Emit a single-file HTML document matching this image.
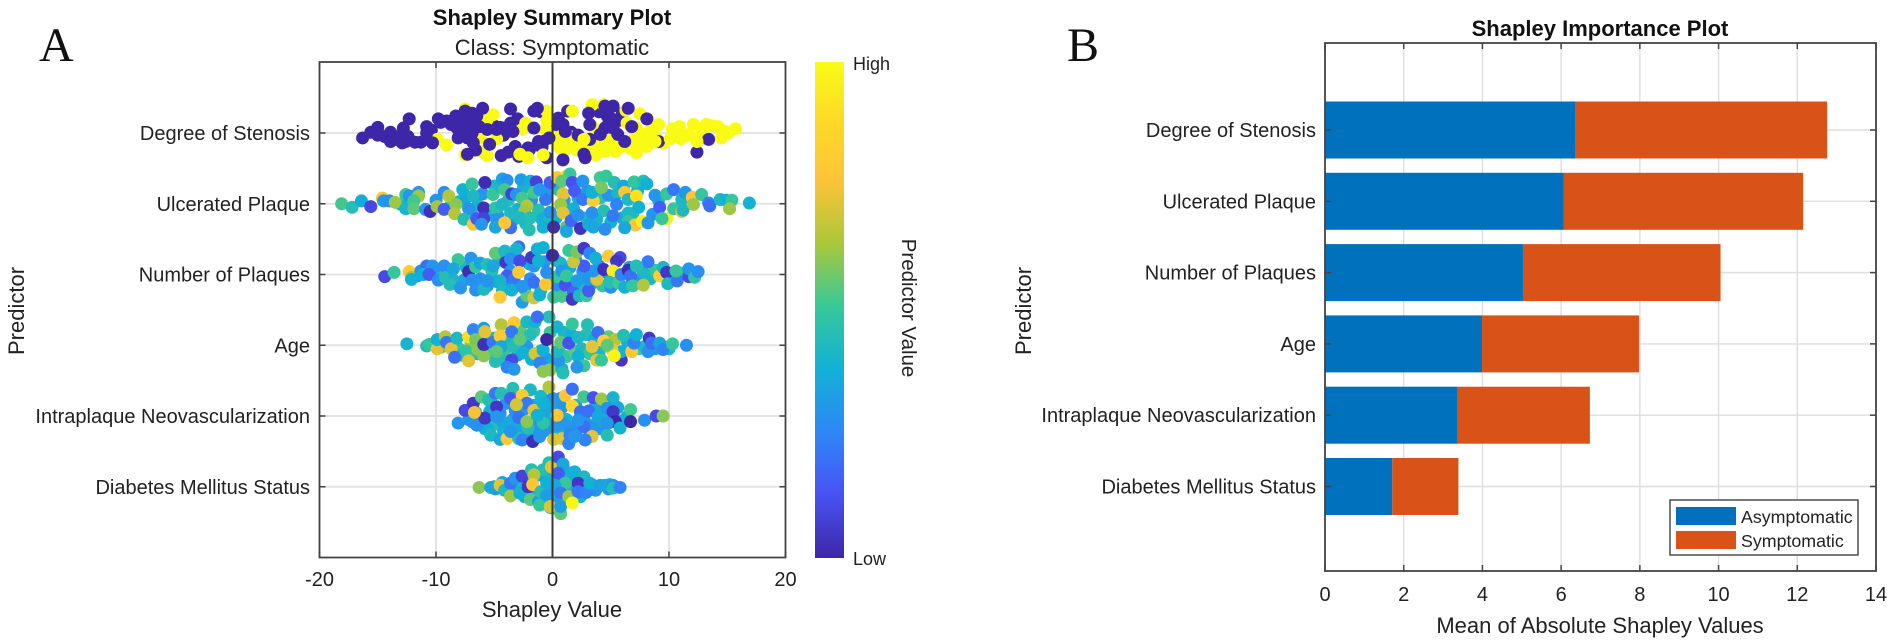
<!DOCTYPE html>
<html lang="en">
<head>
<meta charset="utf-8">
<title>Shapley Summary and Importance Plots</title>
<style>
html,body{margin:0;padding:0;background:#fff;}
svg{display:block;font-family:"Liberation Sans",Arial,sans-serif;}
</style>
</head>
<body>
<svg id="figure" xmlns="http://www.w3.org/2000/svg" width="1893" height="643" viewBox="0 0 1893 643">
  <defs>
    <linearGradient id="parulaGrad" x1="0" y1="1" x2="0" y2="0">
      <stop offset="0" stop-color="rgb(62,38,168)"/>
      <stop offset="0.127" stop-color="rgb(72,82,244)"/>
      <stop offset="0.254" stop-color="rgb(46,135,247)"/>
      <stop offset="0.381" stop-color="rgb(18,177,214)"/>
      <stop offset="0.508" stop-color="rgb(55,200,151)"/>
      <stop offset="0.635" stop-color="rgb(171,199,57)"/>
      <stop offset="0.762" stop-color="rgb(254,195,56)"/>
      <stop offset="0.889" stop-color="rgb(252,219,38)"/>
      <stop offset="1" stop-color="rgb(249,251,21)"/>
    </linearGradient>
  </defs>
  <rect x="0" y="0" width="1893" height="643" fill="#fff"/>

  <text x="39" y="61" font-family="'Liberation Serif',serif" font-size="48" fill="#111">A</text>
  <text x="1067" y="61" font-family="'Liberation Serif',serif" font-size="48" fill="#111">B</text>

  <text x="552" y="25" text-anchor="middle" font-size="22" font-weight="700" fill="#111">Shapley Summary Plot</text>
  <text x="552" y="55" text-anchor="middle" font-size="22" fill="#222">Class: Symptomatic</text>
  <text x="552" y="617" text-anchor="middle" font-size="22" fill="#222">Shapley Value</text>
  <text transform="translate(24,311) rotate(-90)" text-anchor="middle" font-size="22" fill="#222">Predictor</text>

  <g id="summaryGrid"></g>
  <g id="summaryPoints"></g>
  <g id="summaryAxes"></g>

  <rect x="815" y="62" width="29" height="496" fill="url(#parulaGrad)"/>
  <text x="853" y="70" font-size="18" fill="#222">High</text>
  <text x="853" y="565" font-size="18" fill="#222">Low</text>
  <text transform="translate(902,308) rotate(90)" text-anchor="middle" font-size="20.5" fill="#222">Predictor Value</text>

  <text x="1600" y="36" text-anchor="middle" font-size="22" font-weight="700" fill="#111">Shapley Importance Plot</text>
  <text x="1600" y="633" text-anchor="middle" font-size="22" fill="#222">Mean of Absolute Shapley Values</text>
  <text transform="translate(1031,311) rotate(-90)" text-anchor="middle" font-size="22" fill="#222">Predictor</text>

  <g id="importanceGrid"></g>
  <g id="importanceBars"></g>
  <g id="importanceAxes"></g>

  <g>
    <rect x="1670" y="500" width="188" height="55" fill="#fff" stroke="#333" stroke-width="1.3"/>
    <rect x="1676" y="507" width="60" height="18" fill="#0072bd"/>
    <text x="1741" y="523" font-size="17.8" fill="#222">Asymptomatic</text>
    <rect x="1676" y="531" width="60" height="18" fill="#d95319"/>
    <text x="1741" y="547" font-size="17.8" fill="#222">Symptomatic</text>
  </g>
</svg>

<script>
const predictors = ["Degree of Stenosis","Ulcerated Plaque","Number of Plaques","Age","Intraplaque Neovascularization","Diabetes Mellitus Status"];
const summaryXTicks = [-20,-10,0,10,20];
const importanceXTicks = [0,2,4,6,8,10,12,14];
const asymptomaticMeans = [6.37,6.06,5.03,3.99,3.37,1.71];
const symptomaticMeans = [6.39,6.09,5.02,3.99,3.36,1.68];

const stenosisShap = [
0,.3,.6,1,1.8,2.2,4.2,5,5.8,6.7,
7.4,8,8.5,8.9,9.5,10.3,11,11.7,12.8,13.7,
14.7,3.9,4.5,3,2.1,
-15,-14.4,-13.4,-12.6,-11.8,-10.4,-9.6,-8.7,-8,-7.6,
-7,-6.4,-5.9,-5,-4.5,-4.2,-3,-2.5,-2,-1.2,
-1,-.9,.3,1.6,4,4.7,5.7,5.6,4.9,6,
-9.1,-7.5,-7.5,-6.1,-5.6,-6.2,-5.1,-4.8,-5.6,-9.9,
-2.3,-2.6,-.5,-.5,-.6,.7,1.5,.8,1.4,3.4,
4.4,3.4,3.7,4.5,3.8,4.7,5.4,6.3,7.5,6.4,
7.2,7.8,8.1,7.2,7.1,7.8,
-16.3,-15.6,-15,-13.9,-13.9,-13.2,-12.8,-12.3,-12.9,-12.4,
-11.3,-10.8,-10.3,-10.8,-9.8,-9.1,-8.3,-7.5,-6.9,-6,
-6.5,-8.2,-7.8,-7.1,-6.3,-5.6,-7.3,-6.8,-7.3,-6.6,
-8.1,-6.9,-4.3,-3.6,-3.6,-3.4,-4.8,-3.9,-5.4,-4.4,
-3.2,-2.9,-3.8,-1.3,-1.6,-1.6,-2.1,-1.3,-.8,-.3,
-.5,.5,.9,1.1,.9,1.3,2.2,2.7,2.8,3.1,
3.2,3.2,4.5,5.2,4.7,5.2,4.5,5.2,4.1,6.5,
6.8,6.2,8.1,9.1,13.4,12.4,
1.7,-2.8,-2.1,-.8,2.7,9.1,8.8,10.1,10.9,11.3,
12.1,12.4,13.2,14.2,14.5,15.1,15.7];
const stenosisOffset = [
.02,.12,.2,.26,.12,.18,.2,.12,.2,.22,
.16,.02,-.06,.07,.14,-.06,.08,.02,0,-.1,
-.03,.26,.06,.22,.24,
.03,.05,.09,.12,.13,-.04,-.15,-.12,-.18,-.2,
-.22,-.18,-.12,-.1,-.08,.03,-.2,.28,.24,.12,
-.3,.2,-.12,-.01,-.3,-.1,-.18,.02,-.22,-.28,
.17,-.34,.31,.26,.32,.07,-.26,.08,-.19,.09,
-.14,-.05,-.31,-.17,-.05,.05,.05,.19,.17,-.4,
-.4,-.09,.31,.26,.19,.12,.26,-.32,-.27,-.14,
-.07,.05,.19,.28,.07,.14,
.07,-.01,-.08,-.01,.12,.05,-.07,-.2,.14,.05,
.13,-.09,.14,0,-.2,-.17,-.24,-.31,-.28,-.35,
-.24,-.07,-.02,-.14,-.09,-.05,.07,.14,.3,.24,
.07,0,-.07,-.34,-.14,-.02,-.05,-.02,.16,.32,
.19,.33,.27,-.35,-.31,-.07,.21,.17,.12,.07,
.35,-.21,-.12,-.02,.38,-.31,.03,.3,.35,-.28,
.09,-.12,-.38,-.38,-.24,-.19,-.07,-.07,.02,-.35,
-.09,.12,-.2,.12,.09,.27,
-.31,.3,.35,.31,.09,-.12,.12,.08,-.09,.05,
-.12,.12,-.12,-.09,.07,0,-.06];
const stenosisValue = [
1,1,1,1,1,1,1,1,1,1,
1,1,1,1,1,1,1,1,1,1,
1,1,1,1,1,
0,0,0,0,0,0,0,0,0,0,
0,0,0,0,0,0,0,0,0,0,
0,0,0,0,0,0,0,0,0,0,
1,1,1,1,1,1,1,1,1,1,
1,1,1,1,1,1,1,1,1,1,
1,1,1,1,1,1,1,1,1,1,
1,1,1,1,1,1,
0,0,0,0,0,0,0,0,0,0,
0,0,0,0,0,0,0,0,0,0,
0,0,0,0,0,0,0,0,0,0,
0,0,0,0,0,0,0,0,0,0,
0,0,0,0,0,0,0,0,0,0,
0,0,0,0,0,0,0,0,0,0,
0,0,0,0,0,0,0,0,0,0,
0,0,0,0,0,0,
1,1,1,1,1,1,1,1,1,1,
1,1,1,1,1,1,1];

const ulceratedShap = [
-13,-12,-10,-8.8,-8,-7.4,-7,-6.4,-6,-5.4,
-5,-4.7,-3.8,-3.3,-3,-2.5,-2.3,-1.8,-1.2,-.9,
-.5,-.3,.3,.5,1,1.4,1.8,2.2,2.9,3,
3.8,4.1,4.8,5,5.6,6,6.9,7.3,8.6,9.1,
-18.1,-17.2,-16.4,-15.6,-14.6,-14.5,-14,-13.5,-12.6,-12.6,
-12.3,-11.5,-11.5,-11.9,-11.9,-10.9,-10.5,-9.9,-9.3,-9.3,
-8.9,-8.3,-8.4,-7.7,-6.9,-5.8,-5.9,-7.2,-7.6,-6.8,
-6.5,-5.9,-6.1,-6.8,-5.1,-4.5,-4.3,-3.9,-4.1,-4.9,
-4.3,-3.6,-4.8,-4.9,-3.6,-4.1,-3.5,-3.1,-2.6,-2.7,
-1.9,-1.4,-1.6,-2.2,-2.4,-2.8,-1.9,-2,-.8,.1,
-.2,-.6,-1.1,-.2,.4,1.2,1.5,.8,.9,.7,
.9,1.2,1.2,1.6,2.4,2.2,1.7,1.9,2.6,2.6,
3.5,3.4,3.4,3.1,3.5,4.5,4.4,5.2,5.5,4.1,
4.6,4.2,5.3,6.1,6.2,6.5,7.2,7.4,7,7.8,
8.1,6.5,6.5,7.1,7.7,8.2,6.2,8.8,9.2,9.8,
9.8,9.4,10.4,10.4,11.1,11.2,11.1,11.4,12,12.1,
12.8,13.4,13.5,14.4,14.9,15.4,15.2,16.9];
const ulceratedOffset = [
.01,.04,-.05,.04,-.03,-.09,.12,.02,-.14,.14,
-.25,.17,-.05,.22,.08,-.22,.28,-.05,.09,.22,
-.15,.25,.2,-.2,-.05,.12,.07,-.08,.2,-.18,
.22,-.08,-.12,.26,-.15,.2,.14,-.18,.15,-.05,
0,.05,-.04,.04,-.08,-.04,-.04,-.02,-.13,.07,
-.11,-.16,-.11,-.04,.07,.08,.11,.04,.08,-.16,
-.11,.01,.14,-.2,-.28,-.3,.06,.07,.22,.29,
.21,.21,.29,-.11,-.13,-.25,-.35,-.33,-.2,.06,
.01,.13,.22,.33,.34,.27,-.14,-.13,-.08,-.34,
-.32,-.31,-.16,.03,.11,.2,.2,.37,.33,.33,
.12,-.06,-.2,-.3,-.37,-.39,-.42,-.32,-.14,.01,
.13,.33,.39,.24,.35,.16,-.3,-.18,-.32,-.06,
-.04,-.16,.13,.29,.33,.36,.1,.17,.01,-.37,
-.39,-.23,-.3,-.25,-.16,-.06,-.11,.05,-.31,-.32,
-.28,.13,.25,.3,.25,.27,.34,-.12,.05,-.14,
.21,.21,-.2,.07,.11,.09,-.06,-.16,-.09,.01,
-.13,-.01,.03,-.06,-.05,-.05,.07,-.01];
const ulceratedValue = [
.4,.38,.3,.5,.42,.35,.45,.4,.3,.38,
.42,.3,.45,.35,.38,.4,.42,.3,.45,.38,
.3,.42,.38,.45,.3,.42,.38,.35,.45,.3,
.4,.48,.3,.38,.42,.35,.45,.38,.3,.42,
.52,.45,.37,.1,.78,.32,.28,.62,.5,.4,
.3,.3,.62,.52,.55,.3,.03,.63,.15,.28,
.65,.6,.65,.38,.5,.02,.03,.3,.45,.78,
.15,.08,.3,.42,.5,.42,.35,.28,.52,.48,
.42,.42,.3,.35,.2,.78,.08,.3,.52,.32,
.38,.08,.52,.65,.62,.42,.45,.45,.38,.02,
.3,.22,.3,.15,.78,.85,.5,.55,.72,.62,
.72,.55,.35,.18,.03,.28,.12,.15,.3,.22,
.82,.38,.28,.35,.35,.28,.45,.22,.25,.52,
.5,.58,.45,.35,.78,.42,.9,.38,.5,.45,
.38,.42,.5,.78,.95,.3,.35,.3,.15,.5,
.95,.5,.22,.5,.72,.42,.42,.3,.78,.62,
.5,.25,.2,.42,.38,.5,.62,.38];

const plaquesShap = [
-11.6,-10.2,-9.6,-8.9,-7.6,-7.4,-6.2,-5.6,-5.2,-4.8,
-4.6,-4.2,-3.7,-3.2,-2.4,-2,-1.9,-1,-.7,-.3,
.3,.5,.7,1.3,1.5,2,2.5,2.6,3.3,4,
4.3,4.6,5,5.5,6.6,7.2,8.4,8.8,10.2,11,
-14.4,-13.6,-12.3,-12.1,-12.1,-11.3,-10.8,-11.1,-10.3,-10.6,
-9.8,-9.3,-9.2,-8.1,-8.5,-8.5,-8.8,-7.9,-7.2,-7,
-6.9,-6.6,-6.6,-6.2,-5.9,-5.6,-5.6,-5.1,-4.9,-4.1,
-4,-2.9,-3.1,-3.6,-2.8,-3.6,-3.9,-4.5,-3.3,-2.9,
-4.3,-3.5,-4.5,-2.6,-2.2,-1.6,-1.1,-2.6,-1.6,-.6,
-.5,-1.6,-1.8,-1.2,-1.3,-.8,0,.1,.8,.4,
.8,1.1,1.2,1.8,1.7,2.3,2.9,3.1,2.1,3.1,
3.8,3.5,2.7,1.8,1.4,2.1,2.7,3.2,3.7,4.8,
4.4,5.8,5.5,5.2,4.9,5.7,5.9,6.5,6.7,6.2,
6.9,7.8,7.8,8.2,7.2,9.2,9.5,9.8,9.9,10.7,
10.6,11.7,11.7,12.2,12.5];
const plaquesOffset = [
.02,-.03,.05,-.06,.08,-.1,.06,.16,-.05,.1,
-.2,.14,.03,-.28,.2,-.15,.06,.22,-.18,.12,
-.2,.18,-.16,.1,-.1,-.2,.18,-.04,.14,-.12,
.16,-.03,.18,.02,-.1,.08,.06,-.06,-.01,-.02,
.03,-.03,-.04,.04,.07,-.05,-.12,0,-.12,0,
.08,-.12,.04,-.21,-.08,.08,.14,.19,-.04,-.23,
.08,.22,-.11,-.16,.21,.09,-.14,-.12,-.3,-.33,
-.17,-.39,-.36,-.22,-.19,-.05,.02,.09,.07,-.03,
.23,.22,.32,.39,.3,.33,.29,.17,.11,.14,
-.03,-.12,-.24,-.19,-.36,-.38,-.27,.32,.31,.03,
-.05,.15,.02,.25,.35,.3,.3,.23,.09,.07,
.07,-.05,-.12,-.18,-.34,-.32,-.37,-.3,-.23,-.26,
-.07,-.24,-.19,-.05,.11,.12,0,-.06,.02,.18,
.16,.15,-.03,-.18,-.12,.02,-.1,-.03,.13,.09,
-.05,.03,-.08,.04,-.04];
const plaquesValue = [
.3,.28,.42,.3,.35,.4,.28,.3,.45,.35,
.38,.3,.22,.42,.3,.38,.28,.4,.3,.45,
.38,.28,.42,.3,.35,.28,.42,.3,.38,.25,
.5,.3,.28,.4,.35,.3,.42,.5,.38,.45,
.1,.5,.8,.62,.38,.3,.2,.38,.3,.15,
.28,.28,.45,.5,.35,.4,.45,.3,.02,.3,
.28,.28,.5,.35,.42,.3,.45,.35,.55,.42,
.05,.2,.4,.28,.1,.3,.15,.4,.22,.8,
.42,.38,.8,.32,.55,.7,.38,.3,.2,.78,
.28,.3,.05,.38,.38,.38,0,.5,.52,.5,
.3,.12,.5,.18,.05,.42,.5,.15,.32,.3,
.72,.3,.15,.68,.5,.58,.05,.25,.38,.8,
.03,.1,.05,.95,.45,.52,.25,.02,.2,.38,
.5,.65,.42,.22,.45,.82,.42,.05,.42,.22,
.5,.1,.3,.48,.28];

const ageShap = [
-10.8,-9.6,-8.9,-8,-7.8,-7,-6.5,-6,-5.4,-5,
-4.7,-4,-3.8,-3,-2.8,-2.4,-1.8,-1.6,-1,-.6,
-.2,.2,.6,1,1.2,1.6,1.9,2.5,2.9,3.2,
3.6,4,4.8,5.6,6.4,7.4,7.9,8.8,9.8,10,
-12.5,-10.6,-9.9,-9.9,-9.2,-9.1,-8.7,-8.4,-8.2,-7.4,
-7.2,-7.2,-6.8,-6.6,-6.4,-5.9,-5.9,-5.9,-5.8,-5.1,
-4.4,-4.5,-4.4,-4.9,-4.1,-3.5,-3.9,-3.3,-3.3,-3.3,
-3.5,-2.2,-1.5,-1.9,-2.2,-2.5,-1.5,-1.1,-.3,-1.3,
-.8,-.2,.8,.9,.5,.4,.7,1.4,.4,1.7,
2.2,3,2.2,2.7,2.1,3.9,3.4,3.8,4.2,4.4,
5.4,5.9,5.9,5.1,6.1,6.8,7,7.2,8.3,8.2,
8.5,9.2,9.5,10.3,11.5,4.7,-4.8,-2.8,-.8,-.5,
5.3];
const ageOffset = [
.01,.03,-.03,.05,.14,-.03,.12,-.12,.1,-.1,
.12,.05,-.12,.14,-.22,.1,.2,-.2,.08,.18,
-.18,.22,.1,-.18,.16,-.15,.08,.05,-.15,.12,
-.08,.1,-.12,.12,-.06,.05,.02,.05,.03,.05,
-.02,-.01,.05,-.08,-.12,-.04,.05,.17,-.1,.09,
-.12,.22,-.22,-.08,.06,.15,-.01,-.24,-.19,-.04,
-.29,-.13,.02,.23,.22,.21,.31,.34,.02,-.32,
-.19,-.33,-.33,-.15,.02,.11,.12,.25,-.4,-.4,
.37,.35,.33,.39,.21,.09,-.04,-.03,-.26,-.3,
-.11,-.29,.16,.29,.31,-.18,.02,.21,.21,-.06,
-.08,.21,.09,.06,-.14,.09,-.03,-.15,-.1,.09,
-.03,-.03,.06,-.02,0,0,.09,-.08,.07,-.08,
.15];
const ageValue = [
.42,.55,.38,.5,.42,.6,.45,.38,.5,.42,
.38,.5,.42,.3,.55,.45,.38,.5,.42,.3,
.5,.38,.45,.42,.5,.38,.55,.42,.45,.5,
.38,.42,.55,.45,.38,.5,.42,.3,.38,.42,
.4,.5,.72,.38,.65,.22,.72,.2,.42,.48,
.9,.72,.25,.58,.6,.6,.03,.33,.72,.22,
.65,.8,.35,.45,.45,.1,.25,.3,.45,.8,
.22,.42,.38,.45,.3,.38,.7,.25,.45,.2,
.6,.6,.38,.45,.3,.42,.55,.12,.4,.5,
.42,.45,.38,.5,.3,.2,.72,.72,.5,.82,
.65,.05,.38,.75,.45,.78,.25,.38,.05,.28,
.2,.35,.25,.5,.28,.55,.55,.55,.38,0,
.98];

const neovascShap = [
-7.2,-6.6,-6,-5.8,-5.2,-5,-4.6,-4,-3.8,-3.4,
-3.2,-2.8,-2.4,-2.3,-2,-1.6,-1.4,-1,-.8,-.4,
-.2,0,.3,.6,.8,1.2,1.5,2,2.1,2.4,
3,3.2,3.7,4.1,4.4,4.8,5.3,5.6,6.2,6.4,
-3.1,-4.2,-1.6,.9,3.8,3.5,-5.6,-4.5,2.7,-.5,
-8.1,-7.5,-6.8,-6.9,-6.5,-6.1,-5.5,-5.4,-5.8,-4.8,
-4.9,-4.4,-3.4,-1.9,-3.6,-2.6,-2.2,-1.6,-3.1,-2.9,
-4.3,-5.3,-4.5,-3.9,-2.9,-2.6,-1.7,-2.1,-2.2,-1.1,
-.8,-.5,-.8,-.3,.1,.8,1.4,1.5,.4,.4,
.7,1.1,1.7,1.7,2.7,3.5,4.2,5.2,2.4,3.1,
2.7,3.4,2.8,3.9,4.7,4.7,5.2,5.4,5.8,6.7,
6.7,7.9,8.9,9.5,1.9,2.2,-3.6,-1.3,4.7,-4.8,
-6.7];
const neovascOffset = [
.05,-.05,.08,.18,-.12,.12,-.05,-.18,.18,.05,
-.08,.25,-.1,.12,.3,-.15,.12,-.28,.22,.02,
.2,-.25,-.15,.2,-.12,.05,.18,-.15,.2,-.05,
.12,.22,-.15,.18,-.02,.1,.03,-.12,.05,.01,
.15,.22,.2,.1,.1,.17,.17,-.04,.05,.05,
.1,-.08,-.18,.08,.13,-.27,-.23,-.06,.03,-.13,
-.32,-.32,-.39,-.37,-.25,-.29,-.18,-.08,-.16,.02,
.08,.27,.33,.32,.32,.34,.36,.17,.08,.29,
.1,-.08,-.18,-.41,.33,.32,.39,.27,.13,-.01,
-.25,-.29,-.38,-.14,-.27,-.26,-.24,-.26,-.06,-.07,
.15,.29,.34,.01,.27,-.11,-.06,.08,.17,-.09,
.08,.06,0,0,.29,.06,.22,-.01,.1,.01,
-.05];
const neovascValue = [
.3,.38,.35,.4,.3,.45,.38,.3,.42,.35,
.28,.38,.3,.45,.35,.38,.3,.42,.35,.38,
.3,.28,.35,.4,.3,.38,.3,.35,.28,.38,
.3,.25,.35,.3,.38,.3,.28,.35,.3,.38,
.35,.38,.3,.3,.35,.3,.38,.28,.3,.35,
.3,.1,.05,.3,.28,.55,.45,.38,.05,.05,
.22,.45,.45,.42,.15,.8,.22,.72,.7,.2,
.35,.42,.35,.8,.45,.25,.03,.45,.6,.3,
.48,.35,.38,.65,.7,.72,.25,.25,.3,.78,
.3,.78,.2,.85,.52,.12,.62,.4,.2,.2,
.2,.72,.25,.35,.45,.28,.05,0,.38,.52,
0,.28,.1,.6,.3,.3,.3,.38,.3,.3,
.75];

const diabetesShap = [
-5,-4.9,-3.9,-3.4,-3,-2.4,-2.2,-2.2,-1.5,-1.4,
-1.4,-.9,-.8,-.6,-.3,-.1,0,.1,.3,.3,
.6,.9,1,1.2,1.3,1.6,1.8,2,2.4,2.5,
3,3.4,3.7,4.9,4.8,
-1.3,-.8,1.5,2.7,-6.3,-5.3,-4.3,-4.5,-4.1,-3.6,
-3.6,-3.2,-2.8,-2.6,-1.8,-1.6,-2.1,-1.7,-1.9,-1.2,
-1.1,-1,-.5,-.5,-.2,-.3,-.1,.5,.9,.5,
1.9,2.7,2.2,1.1,.2,.7,-.2,.7,1.4,.7,
2.2,2.9,3.2,4.1,4.5,5.2,5.2,5.8,1.7];
const diabetesOffset = [
0,.03,-.02,.04,-.08,.14,-.1,.05,-.15,.08,
.16,-.2,.22,-.12,.15,-.15,.3,.05,.2,-.28,
.1,-.15,.08,.2,-.2,.03,-.05,-.12,.14,-.08,
.03,-.03,.05,-.03,.03,
-.19,-.24,0,-.02,.01,.01,-.06,-.02,.05,.13,
-.05,-.12,.09,-.15,-.24,-.17,0,-.03,.18,.21,
.26,.07,.12,-.05,.29,-.34,-.28,-.42,-.32,-.19,
-.21,-.14,-.05,-.05,-.02,.09,.28,.38,.14,.28,
.07,.08,-.05,-.02,-.02,-.02,.02,.01,.23];
const diabetesValue = [
.42,.3,.38,.3,.42,.35,.38,.45,.38,.3,
.42,.38,.35,.3,.38,.42,.35,.38,.3,.45,
.38,.35,.3,.5,.38,.42,.3,.35,.38,.42,
.45,.35,.3,.38,.3,
.38,.45,.38,.35,.6,.35,.35,.72,.42,.62,
.22,.3,.38,.08,.45,.65,.05,.78,.55,.32,
.5,.45,.32,.38,.38,.45,.72,.1,.35,.15,
.38,.42,.05,.5,.35,.22,.7,.55,.62,.32,
.22,.25,.38,.32,.35,.28,.45,.25,.98];

const NS = 'http://www.w3.org/2000/svg';

function svgEl(tag, attrs, parent) {
  const el = document.createElementNS(NS, tag);
  Object.keys(attrs).forEach(function (k) { el.setAttribute(k, attrs[k]); });
  parent.appendChild(el);
  return el;
}

function parulaColor(v) {
  const pos = [0,.127,.254,.381,.508,.635,.762,.889,1];
  const rgb = [[62,38,168],[72,82,244],[46,135,247],[18,177,214],[55,200,151],[171,199,57],[254,195,56],[252,219,38],[249,251,21]];
  const t = Math.max(0, Math.min(1, v));
  let i = 0;
  while (i < pos.length - 2 && t > pos[i + 1]) i++;
  const f = (t - pos[i]) / (pos[i + 1] - pos[i]);
  const c = [0,1,2].map(function (k) { return Math.round(rgb[i][k] + f * (rgb[i + 1][k] - rgb[i][k])); });
  return 'rgb(' + c.join(',') + ')';
}

const summaryBox = { left: 319.5, right: 785.5, top: 62, bottom: 557.5 };
function summaryX(v) { return summaryBox.left + (v + 20) / 40 * (summaryBox.right - summaryBox.left); }
function summaryY(row) { return 133 + row * 70.75; }

const importanceBox = { left: 1325, right: 1876, top: 43, bottom: 571 };
function importanceX(v) { return importanceBox.left + v / 14 * (importanceBox.right - importanceBox.left); }
function importanceY(row) { return 130 + row * 71.3; }

const summaryGrid = document.getElementById('summaryGrid');
const summaryPoints = document.getElementById('summaryPoints');
const summaryAxes = document.getElementById('summaryAxes');
const importanceGrid = document.getElementById('importanceGrid');
const importanceBars = document.getElementById('importanceBars');
const importanceAxes = document.getElementById('importanceAxes');

/* Summary plot: grid */
summaryXTicks.forEach(function (t) {
  const g = svgEl('line', { x1: summaryX(t), x2: summaryX(t), y1: summaryBox.top, y2: summaryBox.bottom, stroke: '#e4e4e4', 'stroke-width': 2 }, summaryGrid);
  
  
});
predictors.forEach(function (p, i) {
  const g = svgEl('line', { x1: summaryBox.left, x2: summaryBox.right, y1: summaryY(i), y2: summaryY(i), stroke: '#e4e4e4', 'stroke-width': 2 }, summaryGrid);
  
  
});

/* Summary plot: swarm points */
function drawSwarm(row, shap, offset, value) {
  shap.forEach(function (s, i) {
    const c = svgEl('circle', { cx: summaryX(s), cy: summaryY(row + offset[i]), r: 6.5, fill: parulaColor(value[i]) }, summaryPoints);
    
    
  });
}
drawSwarm(0, stenosisShap, stenosisOffset, stenosisValue);
drawSwarm(1, ulceratedShap, ulceratedOffset, ulceratedValue);
drawSwarm(2, plaquesShap, plaquesOffset, plaquesValue);
drawSwarm(3, ageShap, ageOffset, ageValue);
drawSwarm(4, neovascShap, neovascOffset, neovascValue);
drawSwarm(5, diabetesShap, diabetesOffset, diabetesValue);

/* Summary plot: axes */
const zeroLine = svgEl('line', { x1: summaryX(0), x2: summaryX(0), y1: summaryBox.top, y2: summaryBox.bottom, stroke: '#3a3a3a', 'stroke-width': 2 }, summaryAxes);



const summaryFrame = svgEl('rect', { x: summaryBox.left, y: summaryBox.top, width: summaryBox.right - summaryBox.left, height: summaryBox.bottom - summaryBox.top, fill: 'none', stroke: '#444', 'stroke-width': 1.8 }, summaryAxes);



summaryXTicks.forEach(function (t) {
  const x = summaryX(t);
  const a = svgEl('line', { x1: x, x2: x, y1: summaryBox.bottom, y2: summaryBox.bottom - 6, stroke: '#444', 'stroke-width': 1.5 }, summaryAxes);
  
  
  const b = svgEl('line', { x1: x, x2: x, y1: summaryBox.top, y2: summaryBox.top + 6, stroke: '#444', 'stroke-width': 1.5 }, summaryAxes);
  
  
  const l = svgEl('text', { x: x, y: 586, 'text-anchor': 'middle', 'font-size': 20, fill: '#222' }, summaryAxes);
  l.textContent = String(t);
  
  
});
predictors.forEach(function (p, i) {
  const y = summaryY(i);
  const a = svgEl('line', { x1: summaryBox.left, x2: summaryBox.left + 6, y1: y, y2: y, stroke: '#444', 'stroke-width': 1.5 }, summaryAxes);
  
  
  const b = svgEl('line', { x1: summaryBox.right, x2: summaryBox.right - 6, y1: y, y2: y, stroke: '#444', 'stroke-width': 1.5 }, summaryAxes);
  
  
  const l = svgEl('text', { x: 310, y: y + 7, 'text-anchor': 'end', 'font-size': 20, fill: '#222' }, summaryAxes);
  l.textContent = p;
  
  
});

/* Importance plot: grid */
importanceXTicks.forEach(function (t) {
  const g = svgEl('line', { x1: importanceX(t), x2: importanceX(t), y1: importanceBox.top, y2: importanceBox.bottom, stroke: '#dedede', 'stroke-width': 1.4 }, importanceGrid);
  
  
});
predictors.forEach(function (p, i) {
  const g = svgEl('line', { x1: importanceBox.left, x2: importanceBox.right, y1: importanceY(i), y2: importanceY(i), stroke: '#dedede', 'stroke-width': 1.4 }, importanceGrid);
  
  
});

/* Importance plot: stacked bars */
predictors.forEach(function (p, i) {
  const y = importanceY(i) - 28.5;
  const a = svgEl('rect', { x: importanceX(0), y: y, width: importanceX(asymptomaticMeans[i]) - importanceX(0), height: 57, fill: '#0072bd' }, importanceBars);
  
  
  const s = svgEl('rect', { x: importanceX(asymptomaticMeans[i]), y: y, width: importanceX(symptomaticMeans[i]) - importanceX(0), height: 57, fill: '#d95319' }, importanceBars);
  
  
});

/* Importance plot: axes */
const importanceFrame = svgEl('rect', { x: importanceBox.left, y: importanceBox.top, width: importanceBox.right - importanceBox.left, height: importanceBox.bottom - importanceBox.top, fill: 'none', stroke: '#444', 'stroke-width': 1.8 }, importanceAxes);



importanceXTicks.forEach(function (t) {
  const x = importanceX(t);
  const a = svgEl('line', { x1: x, x2: x, y1: importanceBox.bottom, y2: importanceBox.bottom - 6, stroke: '#444', 'stroke-width': 1.5 }, importanceAxes);
  
  
  const b = svgEl('line', { x1: x, x2: x, y1: importanceBox.top, y2: importanceBox.top + 6, stroke: '#444', 'stroke-width': 1.5 }, importanceAxes);
  
  
  const l = svgEl('text', { x: x, y: 601, 'text-anchor': 'middle', 'font-size': 20, fill: '#222' }, importanceAxes);
  l.textContent = String(t);
  
  
});
predictors.forEach(function (p, i) {
  const y = importanceY(i);
  const a = svgEl('line', { x1: importanceBox.left, x2: importanceBox.left + 6, y1: y, y2: y, stroke: '#444', 'stroke-width': 1.5 }, importanceAxes);
  
  
  const b = svgEl('line', { x1: importanceBox.right, x2: importanceBox.right - 6, y1: y, y2: y, stroke: '#444', 'stroke-width': 1.5 }, importanceAxes);
  
  
  const l = svgEl('text', { x: 1316, y: y + 7, 'text-anchor': 'end', 'font-size': 20, fill: '#222' }, importanceAxes);
  l.textContent = p;
  
  
});
</script>
</body>
</html>
